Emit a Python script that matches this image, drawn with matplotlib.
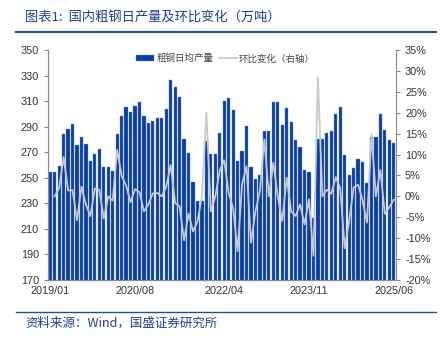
import matplotlib
matplotlib.use("Agg")
import matplotlib.pyplot as plt
import numpy as np

plt.rcParams['font.family'] = ['Noto Sans CJK SC', 'DejaVu Sans']

# monthly crude steel daily output (10k tonnes), 2019/01 - 2025/06
months = [f"{y}/{m:02d}" for y in range(2019, 2026) for m in range(1, 13)][:78]
output = [
    254.3, 254.3, 259.5, 284.0, 288.0, 292.4, 275.7, 282.0, 276.5, 263.4, 268.4, 272.6,
    258.2, 258.2, 255.6, 284.0, 298.0, 305.7, 301.5, 306.5, 309.6, 298.4, 292.6, 294.7,
    297.0, 297.0, 303.8, 326.5, 321.3, 313.5, 280.6, 269.2, 246.7, 231.9, 231.9, 278.6,
    268.6, 268.6, 285.3, 309.8, 312.2, 303.0, 263.4, 271.0, 290.5, 258.2, 249.0, 252.2,
    286.6, 286.6, 309.6, 309.6, 291.4, 304.4, 293.5, 279.6, 274.4, 256.1, 254.3, 218.3,
    280.4, 280.4, 284.8, 286.6, 299.9, 305.7, 267.9, 252.2, 257.4, 264.5, 262.1, 245.7,
    282.2, 282.2, 299.9, 287.2, 279.6, 277.5,
]
# month-on-month change (%), first month has no value
mom = [
    np.nan, 0.0, 2.0, 9.4, 1.4, 1.5, -5.7, 2.3, -2.0, -4.7, 1.9, 1.6,
    -5.3, 0.0, -1.0, 11.1, 4.9, 2.6, -1.4, 1.7, 1.0, -3.6, -1.9, 0.7,
    0.8, 0.0, 2.3, 7.5, -1.6, -2.4, -10.5, -4.1, -8.4, -6.0, 0.0, 20.1,
    -3.6, 0.0, 6.2, 8.6, 0.8, -2.9, -13.1, 2.9, 7.2, -11.1, -3.6, 1.3,
    13.6, 0.0, 8.0, 0.0, -5.9, 4.5, -3.6, -4.7, -1.9, -6.7, -0.7, -14.2,
    28.4, 0.0, 1.6, 0.6, 4.6, 1.9, -12.4, -5.9, 2.1, 2.8, -0.9, -6.3,
    14.9, 0.0, 6.3, -4.2, -2.6, -0.8,
]
tick_idx = [0, 19, 39, 58, 77]

bar_color = "#0A3F9E"
line_color = "#C9C9C9"
title_color = "#1F3F8F"

fig = plt.figure(figsize=(4.42, 3.41), dpi=100)
ax = fig.add_axes([48 / 442, 1 - 280 / 341, 348 / 442, 230 / 341])
ax2 = ax.twinx()

x = np.arange(len(output))
bars = ax.bar(x, output, width=0.74, color=bar_color, edgecolor="#6F8FD0",
              linewidth=0.3, zorder=2)
ax.set_ylim(170, 350)
ax.set_yticks(range(170, 351, 20))
ax.set_xlim(-0.5, len(output) - 0.5)
ax.set_xticks(tick_idx)
ax.set_xticklabels([months[i] for i in tick_idx])

ln, = ax2.plot(x, mom, color=line_color, lw=1.3, zorder=3)
ax2.set_ylim(-20, 35)
ax2.set_yticks(range(-20, 36, 5))
ax2.set_yticklabels([f"{v}%" for v in range(-20, 36, 5)])

for a in (ax, ax2):
    a.spines["top"].set_visible(False)
    for s in ("left", "right", "bottom"):
        a.spines[s].set_color("#8C8C8C")
        a.spines[s].set_linewidth(0.8)
    a.tick_params(labelsize=7.8, colors="#8C8C8C", labelcolor="#333333",
                  length=3, width=0.8)
    for lbl in a.get_xticklabels() + a.get_yticklabels():
        lbl.set_fontfamily(["Liberation Sans", "DejaVu Sans"])
ax.tick_params(axis="x", length=0, pad=4)

ax.legend([bars, ln], ["粗钢日均产量", "环比变化（右轴）"], loc="upper center",
          bbox_to_anchor=(0.51, 1.02), ncol=2, frameon=False, fontsize=6.8,
          handlelength=1.9, handleheight=0.6, columnspacing=0.6,
          handletextpad=0.25, labelcolor="#444444")

# header and footer
fig.text(25 / 442, 1 - 17 / 341, "图表1:  国内粗钢日产量及环比变化（万吨）",
         fontsize=9.5, color=title_color, style="italic", va="center")
fig.add_artist(plt.Line2D([16 / 442, 436 / 442], [1 - 32 / 341] * 2,
                          color="#1F4E9A", lw=1.5))
fig.add_artist(plt.Line2D([16 / 442, 436 / 442], [1 - 311.5 / 341] * 2,
                          color="#1F4E9A", lw=1.0))
fig.text(25 / 442, 1 - 323 / 341, "资料来源：Wind，国盛证券研究所",
         fontsize=9, color=title_color, style="italic", va="center")

fig.savefig("out.png", dpi=100)
